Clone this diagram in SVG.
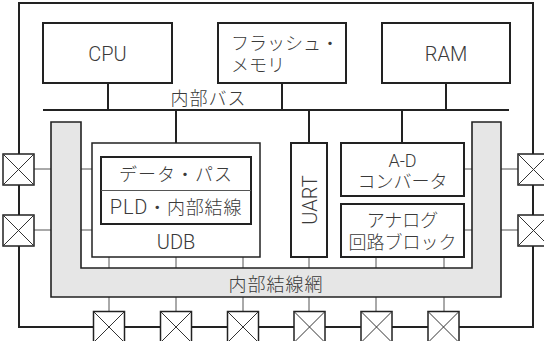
<svg xmlns="http://www.w3.org/2000/svg" width="544" height="341" viewBox="0 0 544 341">
<style>
.thick{fill:none;stroke:#222;stroke-width:2}
.box{fill:#fff;stroke:#222;stroke-width:2}
.thin{fill:none;stroke:#555;stroke-width:1}
.pad{fill:#fff;stroke:#222;stroke-width:1.5}
.x{stroke:#333;stroke-width:1;fill:none}
.gray{fill:#e6e6e6;stroke:#222;stroke-width:1.6}
text{font-family:Roboto,"Noto Sans CJK JP","Noto Sans",sans-serif;font-weight:300;fill:#3a3a3a;font-size:18px}
.c{text-anchor:middle}
.l{font-size:20px}
</style>
<defs>
<g id="padshape">
<rect class="pad" x="-15.5" y="-15.5" width="31" height="31"/>
<path class="x" d="M-15.5,-15.5L15.5,15.5M15.5,-15.5L-15.5,15.5"/>
</g>
</defs>
<rect width="544" height="341" fill="#fff"/>
<g id="frame">
<rect class="thick" x="19" y="3" width="514" height="324"/>
</g>
<g id="connectors">
<path class="thick" d="M43,110H509"/>
<path class="thick" d="M108,83V110M282,83V110M446,83V110M176,110V157M309,110V143M402,110V143"/>
<path class="thin" d="M34,169H51M34,230H51M81,169H92M81,230H92M464,169H472M464,230H472M501,169H518M501,230H518"/>
<path class="thin" d="M109,257V268M176,257V268M243,257V268M309,257V268M376,257V268M444,257V268"/>
<path class="thin" d="M109,297V312M176,297V312M243,297V312M309,297V312M376,297V312M444,297V312"/>
</g>
<g id="interconnect">
<path class="gray" d="M51,122H81V268H472V122H501V297H51Z"/>
<text class="c" x="276" y="291" letter-spacing="1">内部結線網</text>
</g>
<g id="cpu"><rect class="box" x="43" y="23" width="129" height="60"/><text class="c l" x="107.5" y="61">CPU</text></g>
<g id="flash"><rect class="box" x="218" y="23" width="128" height="60"/><text x="231" y="50">フラッシュ・</text><text x="231" y="72">メモリ</text></g>
<g id="ram"><rect class="box" x="382" y="23" width="128" height="60"/><text class="c l" x="446" y="61">RAM</text></g>
<g id="bus-label"><text class="c" x="208.5" y="105" letter-spacing="1">内部バス</text></g>
<g id="udb">
<rect fill="#fff" stroke="#222" stroke-width="1.5" x="92" y="143" width="168" height="114"/>
<text class="c l" x="176" y="249">UDB</text>
</g>
<g id="datapath">
<rect class="box" x="101" y="157" width="150" height="67"/>
<path class="thin" d="M101,190.5H251"/>
<text class="c" x="176" y="181" letter-spacing="1">データ・パス</text>
<text class="c" x="176" y="214" letter-spacing="0.8"><tspan font-size="20">PLD</tspan>・内部結線</text>
</g>
<g id="uart"><rect class="box" x="291" y="143" width="36" height="114"/><text class="c l" transform="translate(316.5,200) rotate(-90)" x="0" y="0">UART</text></g>
<g id="adc"><rect class="box" x="341" y="143" width="123" height="53"/><text class="c" x="402.5" y="167" font-size="20">A-D</text><text class="c" x="402.5" y="188" font-size="18">コンバータ</text></g>
<g id="analog"><rect class="box" x="341" y="204" width="123" height="53"/><text class="c" x="402.5" y="227" font-size="18.5">アナログ</text><text class="c" x="402.5" y="249" font-size="18.5">回路ブロック</text></g>
<g id="pads">
<use href="#padshape" x="18.5" y="169.5"/>
<use href="#padshape" x="18.5" y="230.5"/>
<use href="#padshape" x="533.5" y="169.5"/>
<use href="#padshape" x="533.5" y="230.5"/>
<use href="#padshape" x="109" y="327"/>
<use href="#padshape" x="176" y="327"/>
<use href="#padshape" x="243" y="327"/>
<use href="#padshape" x="309.5" y="327"/>
<use href="#padshape" x="376.5" y="327"/>
<use href="#padshape" x="443.5" y="327"/>
</g>
</svg>
